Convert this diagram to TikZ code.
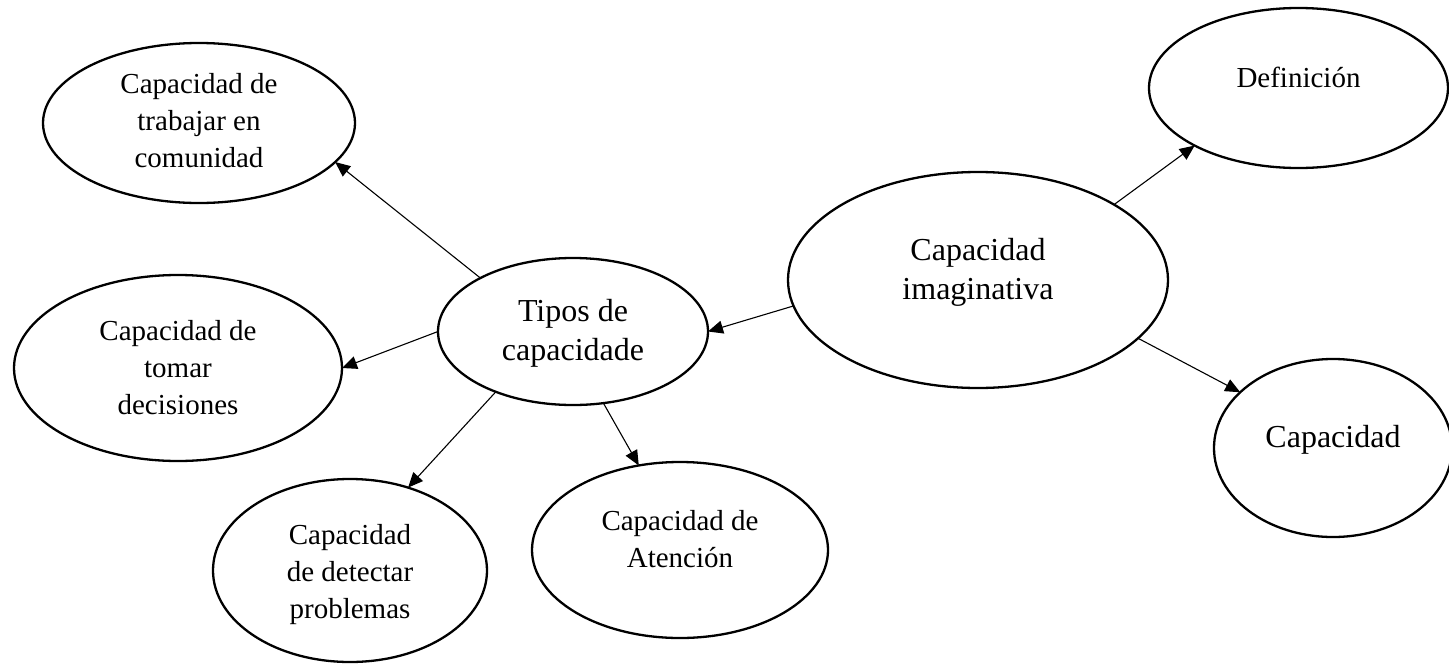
\documentclass[tikz,border=0pt]{standalone}
\usepackage{fontspec}
\setmainfont{Liberation Serif}
\usetikzlibrary{shapes.geometric,arrows.meta}
\newcommand\shiftt[2]{\raisebox{#1}[\height][\depth]{\begin{tabular}{@{}c@{}}#2\end{tabular}}}
\tikzset{
  bub/.style={ellipse, draw, line width=2.3pt, inner sep=0pt, outer sep=0pt,
    font=\fontsize{29}{37}\selectfont},
  bigbub/.style={bub, font=\fontsize{32}{39}\selectfont},
  conn/.style={line width=1.1pt, -{Triangle[length=15pt,width=13pt]}}
}
\begin{document}
\begin{tikzpicture}[x=1pt,y=-1pt]
\useasboundingbox (0,0) rectangle (1449,664);
\node[bub, minimum width=312pt, minimum height=160pt] (trab) at (199,123) {\shiftt{0pt}{Capacidad de\\trabajar en\\comunidad}};
\node[bub, minimum width=328pt, minimum height=186pt] (tomar) at (178,368) {\shiftt{-2pt}{Capacidad de\\tomar\\decisiones}};
\node[bigbub, minimum width=270pt, minimum height=147pt] (tipos) at (573,331.5) {\shiftt{-2pt}{Tipos de\\capacidade}};
\node[bub, minimum width=274pt, minimum height=183pt] (detect) at (350,570.5) {\shiftt{-4pt}{Capacidad\\de detectar\\problemas}};
\node[bub, minimum width=296pt, minimum height=176pt] (atenc) at (680,550) {\shiftt{8pt}{Capacidad de\\Atención}};
\node[bigbub, minimum width=380pt, minimum height=216pt] (imag) at (978,280) {\shiftt{8pt}{Capacidad\\imaginativa}};
\node[bub, minimum width=299pt, minimum height=160pt] (defin) at (1298.5,88) {\shiftt{8pt}{Definición}};
\node[bigbub, minimum width=238pt, minimum height=178pt] (capac) at (1333,448) {\shiftt{8pt}{Capacidad}};
\draw[conn] (tipos.150.9) -- (trab.-16);
\draw[conn] (tipos.180) -- (tomar.0);
\draw[conn] (tipos.218) -- (detect.55.2);
\draw[conn] (tipos.-67.8) -- (atenc.116.3);
\draw[conn] (imag.188.6) -- (tipos.0);
\draw[conn] (imag.29.7) -- (defin.209.2);
\draw[conn] (imag.-20.6) -- (capac.149.9);
\end{tikzpicture}
\end{document}
